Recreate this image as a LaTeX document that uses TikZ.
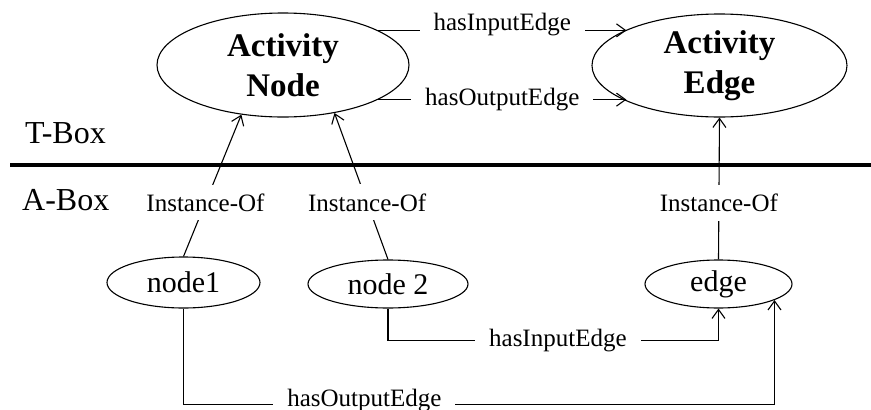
\documentclass[tikz,border=0pt]{standalone}
\usepackage{fontspec}
\setmainfont{Liberation Serif}
\usetikzlibrary{arrows.meta,shapes.geometric}
\begin{document}
\begin{tikzpicture}[x=1pt,y=-1pt,
  ell/.style={draw, ellipse, line width=1.1pt, inner sep=0pt, align=center},
  bigtxt/.style={font=\fontsize{33}{40}\selectfont\bfseries},
  smalltxt/.style={font=\fontsize{30}{36}\selectfont},
  boxtxt/.style={font=\fontsize{32}{38}\selectfont, inner sep=0pt},
  conn/.style={line width=1.1pt},
  arr/.style={conn, -{Straight Barb[length=9pt,width=13pt,line width=1.1pt]}},
  hlbl/.style={fill=white, font=\fontsize{25}{30}\selectfont, inner xsep=14pt, inner ysep=3pt},
  ilbl/.style={fill=white, font=\fontsize{25}{30}\selectfont, inner xsep=9pt, inner ysep=9pt}]
\useasboundingbox (0,0) rectangle (871,410);

% ontology level
\node[ell, bigtxt, minimum width=252pt, minimum height=104pt] (an) at (283,65) {Activity\\Node};
\node[ell, bigtxt, minimum width=255pt, minimum height=103pt] (ae) at (719.5,65.5) {Activity\\Edge};

% separator
\coordinate (sepL) at (10,165);
\coordinate (sepR) at (871,165);
\draw[line width=4pt] (sepL) -- (sepR);
\node[boxtxt, anchor=base west] (tbox) at (25,143) {T-Box};
\node[boxtxt, anchor=base west] (abox) at (22,210) {A-Box};

% instances
\node[ell, smalltxt, minimum width=153pt, minimum height=51pt] (n1) at (183.5,282.5) {node1};
\node[ell, smalltxt, minimum width=160pt, minimum height=48pt] (n2) at (388,284) {node 2};
\node[ell, smalltxt, minimum width=147pt, minimum height=48pt] (e) at (718.5,284) {edge};

% top relations
\coordinate (ti) at (an.20.6);
\draw[arr] (ti) -- (ti -| ae.159) node[hlbl, midway, anchor=base] (lti) {hasInputEdge};
\coordinate (to) at (an.-20.6);
\draw[arr] (to) -- (to -| ae.201) node[hlbl, midway] (lto) {hasOutputEdge};

% instance-of
\draw[arr] (n1.north) -- (an.-130) node[ilbl, pos=0.38] (i1) {Instance-Of};
\draw[arr] (n2.north) -- (an.-43) node[ilbl, pos=0.39] (i2) {Instance-Of};
\draw[arr] (e.north) -- (ae.south) node[ilbl, pos=0.4] (i3) {Instance-Of};

% bottom relations
\draw[arr] (n2.south) -- ++(0,32) -| (e.south) node[hlbl, pos=0.257] (lbi) {hasInputEdge};
\draw[arr] (n1.south) -- ++(0,96) -| (e.-16.6) node[hlbl, pos=0.153, yshift=4pt] (lbo) {hasOutputEdge};
\end{tikzpicture}
\end{document}
